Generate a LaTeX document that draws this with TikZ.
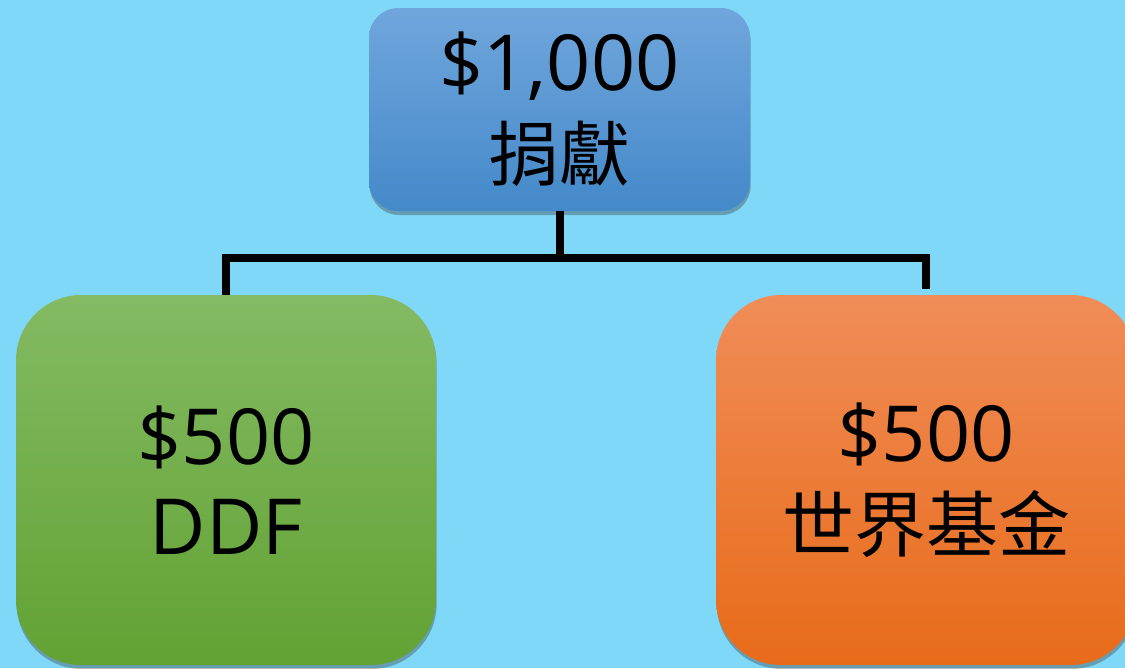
\documentclass[tikz,border=0pt]{standalone}
\usepackage{fontspec}
\setmainfont{Open Sans}
\newfontfamily\cjk{Noto Sans CJK TC}
\usetikzlibrary{shadows}
\definecolor{nennen}{HTML}{80D8F8}
\definecolor{xanhtren}{HTML}{70A6DC}
\definecolor{xanhduoi}{HTML}{4489C9}
\definecolor{lucatren}{HTML}{84BA63}
\definecolor{lucaduoi}{HTML}{62A233}
\definecolor{camtren}{HTML}{F08D58}
\definecolor{camduoi}{HTML}{E86B19}

\begin{document}
\begin{tikzpicture}[x=0.75pt,y=-0.75pt,
		hop/.style={rounded corners=#1,inner sep=0pt,align=center,
			font=\fontsize{58}{67.5}\selectfont,
			drop shadow={shadow xshift=0.5pt,shadow yshift=-3pt,fill=black!80,opacity=0.35}},
		noi/.style={line width=6pt,black}]
			\useasboundingbox[fill=nennen] (0,0) rectangle (1125,668);
			\node[hop=22pt,minimum width=285.75pt,minimum height=152.25pt,top color=xanhtren,bottom color=xanhduoi] (donation) at (559.5,109.5) {\$1,000\\{\cjk\fontsize{53}{67.5}\selectfont 捐獻}};
			\node[hop=49pt,minimum width=315pt,minimum height=277.5pt,top color=lucatren,bottom color=lucaduoi] (ddf) at (226,480) {\$500\\DDF};
			\node[hop=49pt,minimum width=315pt,minimum height=277.5pt,top color=camtren,bottom color=camduoi] (fund) at (926,480) {\$500\\{\cjk\fontsize{54}{67.5}\selectfont 世界基金}};
			\coordinate (fork) at (559.5,258);
			\coordinate (lcorner) at (ddf.north |- fork);
			\coordinate (rcorner) at (fund.north |- fork);
			\coordinate (rend) at (926,289);
			\draw[noi] (donation.south) -- (fork);
			\draw[noi] (ddf.north) -- (lcorner) -- (rcorner) -- (rend);
		\end{tikzpicture}
\end{document}
